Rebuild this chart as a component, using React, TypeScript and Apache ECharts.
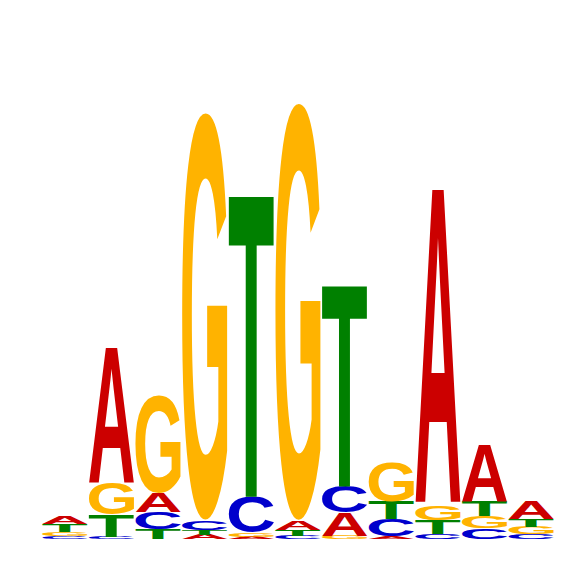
import { useEffect, useRef } from "react";
import * as echarts from "echarts";

// sequence logo, 11 positions, heights in bits
const POSITIONS = ["1", "2", "3", "4", "5", "6", "7", "8", "9", "10", "11"];
const LETTERS = ["A", "C", "G", "T"];
const COLORS = ["#CC0000", "#0000CC", "#FFB300", "#008000"];

const A_BITS = [0.037, 0.614, 0.086, 0.02, 0.011, 0.041, 0.105, 0.013, 1.432, 0.257, 0.082];
const C_BITS = [0.013, 0.012, 0.077, 0.043, 0.16, 0.015, 0.118, 0.078, 0.022, 0.049, 0.024];
const G_BITS = [0.02, 0.143, 0.445, 1.851, 0.02, 1.895, 0.015, 0.18, 0.068, 0.055, 0.032];
const T_BITS = [0.035, 0.099, 0.047, 0.023, 1.377, 0.027, 0.918, 0.08, 0.066, 0.068, 0.036];

const Y_MAX = 2;
const FONT_SIZE = 200;
const FONT = `bold ${FONT_SIZE}px "Liberation Sans"`;
// svg "central" baseline sits a bit lower than canvas "middle"
const BASELINE_FIX = 0.072 * FONT_SIZE;

type Ink = { l: number; r: number; a: number; d: number };

function measureInk(ch: string): Ink {
  const ctx = document.createElement("canvas").getContext("2d")!;
  ctx.font = FONT;
  ctx.textAlign = "left";
  ctx.textBaseline = "middle";
  const m = ctx.measureText(ch);
  return {
    l: m.actualBoundingBoxLeft,
    r: m.actualBoundingBoxRight,
    a: m.actualBoundingBoxAscent - BASELINE_FIX,
    d: m.actualBoundingBoxDescent + BASELINE_FIX,
  };
}

// smallest letter at the bottom, largest on top
function stackRows(): number[][] {
  const all = [A_BITS, C_BITS, G_BITS, T_BITS];
  const rows: number[][] = [];
  POSITIONS.forEach((_, i) => {
    const order = [0, 1, 2, 3].sort((p, q) => all[p][i] - all[q][i]);
    let base = 0;
    for (const k of order) {
      rows.push([i, base, base + all[k][i], k]);
      base += all[k][i];
    }
  });
  return rows;
}

export default function App() {
  const ref = useRef<HTMLDivElement>(null);

  useEffect(() => {
    if (!ref.current) return;
    document.body.style.margin = "0";
    const inks = LETTERS.map(measureInk);
    const chart = echarts.init(ref.current, null, { renderer: "svg" });
    chart.setOption({
      animation: false,
      backgroundColor: "#ffffff",
      grid: { left: 41.5, right: 11.5, top: 99.3, bottom: 26.7 },
      xAxis: { type: "category", data: POSITIONS, show: false },
      yAxis: { type: "value", min: 0, max: Y_MAX, show: false },
      series: [
        {
          type: "custom",
          silent: true,
          encode: { x: 0, y: [1, 2] },
          data: stackRows(),
          renderItem: (_params: any, api: any) => {
            const i = api.value(0);
            const lo = api.value(1);
            const hi = api.value(2);
            const k = api.value(3);
            const [cx, yb] = api.coord([i, lo]);
            const yt = api.coord([i, hi])[1];
            const bw = api.size([1, 0])[0];
            const pad = 0.7;
            const x0 = cx - bw / 2 + pad;
            const w = bw - 2 * pad;
            const h = yb - yt;
            if (h <= 0) return null;
            const ink = inks[k];
            const sx = w / (ink.l + ink.r);
            const sy = h / (ink.a + ink.d);
            return {
              type: "text",
              x: x0 + ink.l * sx,
              y: yt + ink.a * sy,
              scaleX: sx,
              scaleY: sy,
              style: {
                text: LETTERS[k],
                font: FONT,
                fill: COLORS[k],
                align: "left",
                textAlign: "left",
                verticalAlign: "middle",
                textVerticalAlign: "middle",
              },
            };
          },
        },
      ],
    });
    return () => chart.dispose();
  }, []);

  return <div ref={ref} style={{ width: 566, height: 566 }} />;
}
